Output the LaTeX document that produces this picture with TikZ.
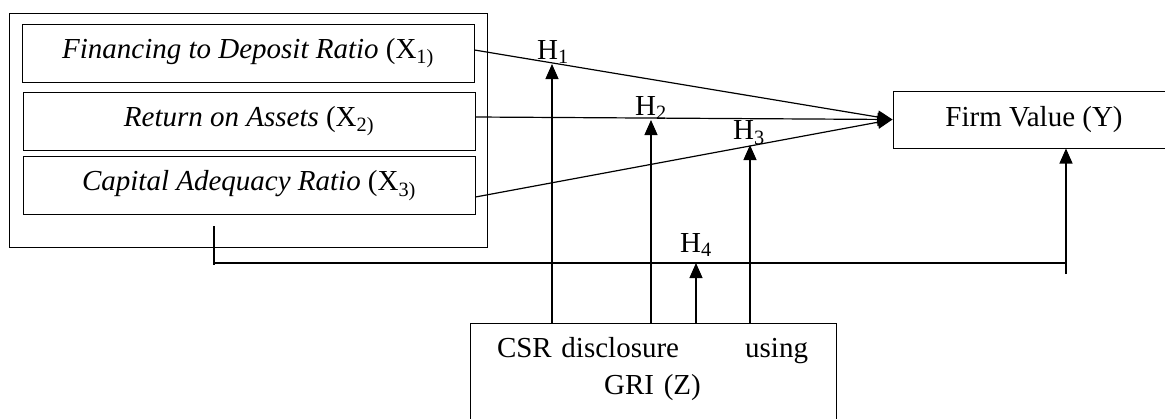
\documentclass[tikz,border=0pt]{standalone}
\usepackage{fontspec}
\setmainfont{Liberation Serif}
\usetikzlibrary{arrows.meta,calc}
\begin{document}
\begin{tikzpicture}[x=1pt,y=-1pt,
  every node/.style={font=\fontsize{29}{37}\selectfont},
  varbox/.style={draw,line width=1pt,minimum width=452pt,minimum height=58pt,inner sep=0pt},
  arr/.style={line width=1.2pt,-{Triangle[length=15pt,width=13pt]}},
  conn/.style={line width=1.2pt},
  hlab/.style={inner sep=0pt}]
\useasboundingbox (0,0) rectangle (1165,418);
% outer frame
\node[draw,line width=1pt,minimum width=478pt,minimum height=234pt,inner sep=0pt] (outer) at (248,130) {};
% independent variables
\node[varbox] (b1) at (248,53) {\textit{Financing to Deposit Ratio} (X\textsubscript{1)}};
\node[varbox] (b2) at (249,121) {\textit{Return on Assets} (X\textsubscript{2)}};
\node[varbox] (b3) at (249,185.5) {\textit{Capital Adequacy Ratio} (X\textsubscript{3)}};
% dependent variable (box runs off the right edge)
\node[draw,line width=1pt,minimum width=282pt,minimum height=57pt,inner sep=0pt] (fv) at (1034,119.5) {Firm Value (Y)};
% moderating variable (box runs off the bottom edge)
\node[draw,line width=1pt,anchor=north,minimum width=366pt,minimum height=110pt,inner sep=0pt] (Z) at (653,323) {};
\node[align=center,text width=311pt,inner sep=0pt] (Zt) at (652.5,369.5) {\makebox[311pt][s]{CSR disclosure\hfill using}\\GRI (Z)};
% direct paths
\draw[arr] ([yshift=3pt]b1.east) -- (fv.west);
\draw[arr] ([yshift=4pt]b2.east) -- (fv.west);
\draw[arr] ([yshift=-11.5pt]b3.east) -- (fv.west);
% moderation arrows
\coordinate (h1t) at (552,64);
\coordinate (h2t) at (651,120);
\coordinate (h3t) at (750,145);
\coordinate (h4t) at (696,263);
\draw[arr] (h1t |- Z.north) -- (h1t);
\draw[arr] (h2t |- Z.north) -- (h2t);
\draw[arr] (h3t |- Z.north) -- (h3t);
\draw[arr] (h4t |- Z.north) -- (h4t);
% combined path to Y
\coordinate (p0) at (214,226);
\coordinate (p1) at (1066,263);
\draw[conn] (p0) -- ++(0,39);
\draw[conn] (p0 |- p1) -- (p1);
\draw[arr] ([yshift=-11pt]p1) -- (fv.south -| p1);
% hypothesis labels
\node[hlab] (H1) at (553,52) {H\textsubscript{1}};
\node[hlab] (H2) at (651,108) {H\textsubscript{2}};
\node[hlab] (H3) at (749,133) {H\textsubscript{3}};
\node[hlab] (H4) at (696,245) {H\textsubscript{4}};
\end{tikzpicture}
\end{document}
